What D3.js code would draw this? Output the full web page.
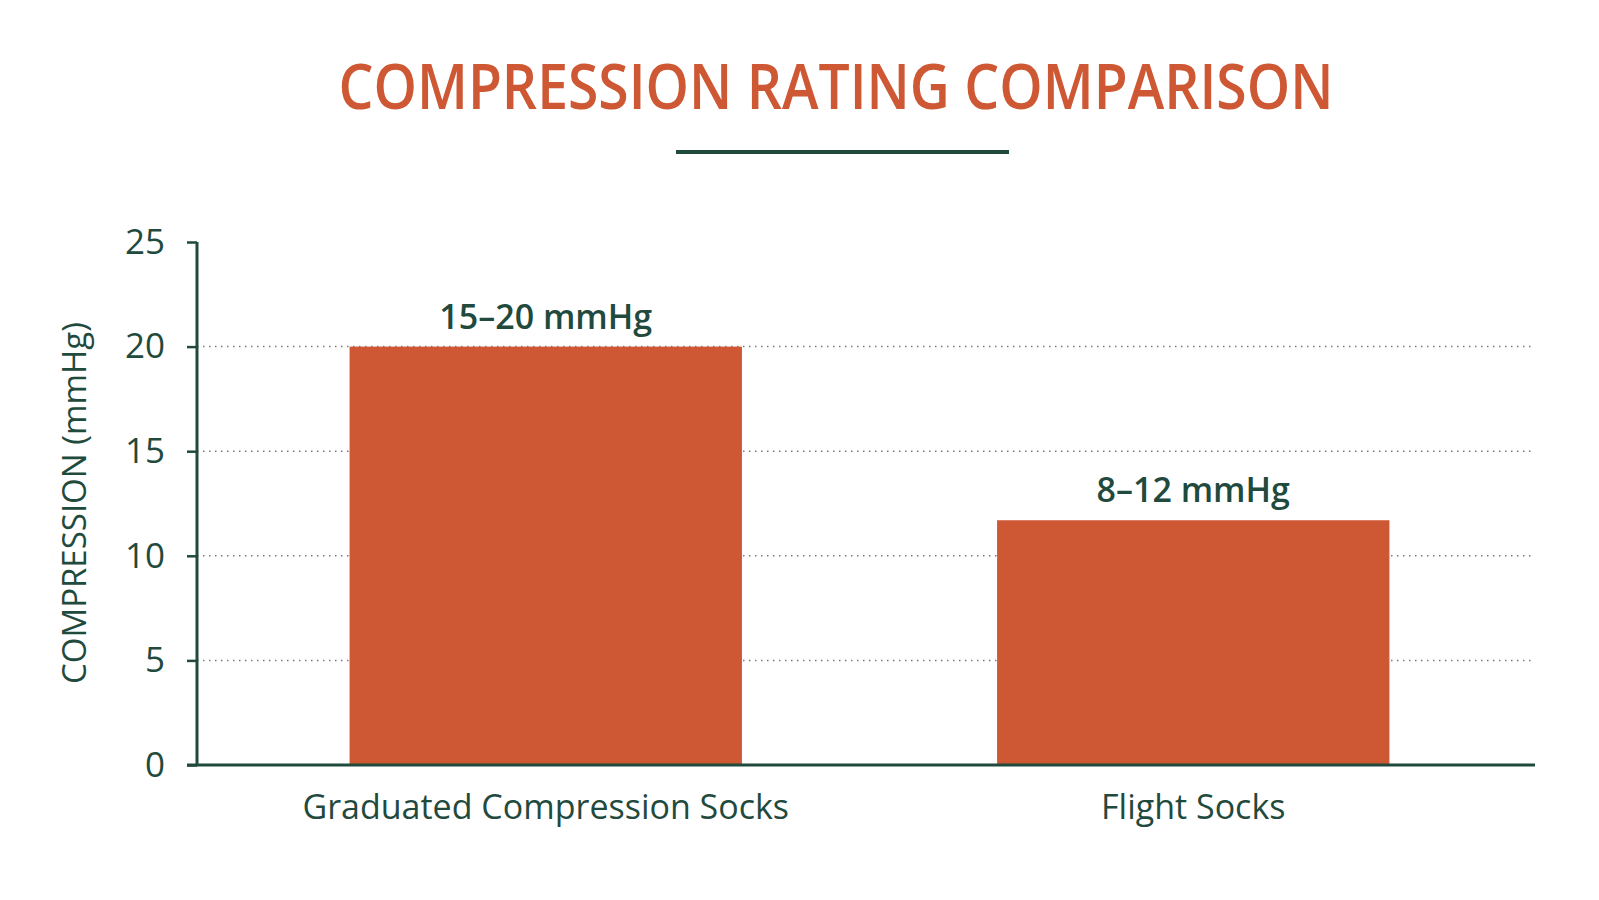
<!DOCTYPE html>
<html>
<head>
<meta charset="utf-8">
<script src="https://cdn.jsdelivr.net/npm/d3@7"></script>
<style>
  body { margin: 0; background: #fff; }
  text { font-family: "Open Sans", Roboto, sans-serif; }
</style>
</head>
<body>
<script>
// data
var categories = ["Graduated Compression Socks", "Flight Socks"];
var values = [20, 11.7];
var valueLabels = ["15–20 mmHg", "8–12 mmHg"];
var yTicks = [0, 5, 10, 15, 20, 25];
var gridTicks = [5, 10, 15, 20];

var width = 1599;
var height = 900;

var orange = "#cf5834";
var green = "#1f4a3d";

var svg = d3.select("body").append("svg")
            .attr("width", width)
            .attr("height", height);

// title + underline (squeezed a bit, the original face is narrower)
svg.append("text")
   .attr("x", 836)
   .attr("y", 109)
   .attr("text-anchor", "middle")
   .attr("fill", orange)
   .attr("font-size", 63)
   .attr("font-weight", 600)
   .attr("textLength", 995)
   .attr("lengthAdjust", "spacingAndGlyphs")
   .text("COMPRESSION RATING COMPARISON");

svg.append("line")
   .attr("x1", 676).attr("x2", 1009)
   .attr("y1", 152).attr("y2", 152)
   .attr("stroke", green)
   .attr("stroke-width", 4);

var y = d3.scaleLinear()
          .domain([0, 25])
          .range([765, 242]);

var x = d3.scaleBand()
          .domain(categories)
          .range([222, 1517])
          .paddingInner(0.394)
          .paddingOuter(0.197);

var axisLeft = 197;
var axisRight = 1535;

// dotted grid
svg.selectAll("line.grid")
   .data(gridTicks)
   .enter()
   .append("line")
   .attr("class", "grid")
   .attr("x1", axisLeft)
   .attr("x2", axisRight)
   .attr("y1", function(d) { return y(d); })
   .attr("y2", function(d) { return y(d); })
   .attr("stroke", "#7a7a7a")
   .attr("stroke-width", 1.5)
   .attr("stroke-dasharray", "1.5,4.5");

// bars
svg.selectAll("rect.bar")
   .data(values)
   .enter()
   .append("rect")
   .attr("class", "bar")
   .attr("x", function(d, i) { return x(categories[i]); })
   .attr("y", function(d) { return y(d); })
   .attr("width", x.bandwidth())
   .attr("height", function(d) { return y(0) - y(d); })
   .attr("fill", orange);

// value labels over bars
svg.selectAll("text.val")
   .data(values)
   .enter()
   .append("text")
   .attr("class", "val")
   .attr("x", function(d, i) { return x(categories[i]) + x.bandwidth() / 2; })
   .attr("y", function(d) { return y(d) - 18; })
   .attr("text-anchor", "middle")
   .attr("fill", green)
   .attr("font-size", 34)
   .attr("font-weight", 600)
   .text(function(d, i) { return valueLabels[i]; });

// y axis
var yAxis = d3.axisLeft(y)
              .tickValues(yTicks)
              .tickSize(10)
              .tickPadding(22);

var gy = svg.append("g")
            .attr("transform", "translate(" + axisLeft + ",0)")
            .call(yAxis);

gy.select(".domain").remove();
gy.selectAll(".tick line").attr("stroke", green).attr("stroke-width", 2.5);
gy.selectAll(".tick text")
  .attr("fill", green)
  .attr("font-size", 35)
  .attr("font-weight", 500)
  .attr("font-family", null);

svg.append("line")
   .attr("x1", axisLeft).attr("x2", axisLeft)
   .attr("y1", y(25)).attr("y2", y(0))
   .attr("stroke", green)
   .attr("stroke-width", 3);

// x axis baseline
svg.append("line")
   .attr("x1", axisLeft - 10).attr("x2", axisRight)
   .attr("y1", y(0)).attr("y2", y(0))
   .attr("stroke", green)
   .attr("stroke-width", 3);

svg.selectAll("text.cat")
   .data(categories)
   .enter()
   .append("text")
   .attr("class", "cat")
   .attr("x", function(d) { return x(d) + x.bandwidth() / 2; })
   .attr("y", 819)
   .attr("text-anchor", "middle")
   .attr("fill", green)
   .attr("font-size", 34)
   .attr("font-weight", 500)
   .text(function(d) { return d; });

// y axis title
svg.append("text")
   .attr("transform", "translate(86,503) rotate(-90)")
   .attr("text-anchor", "middle")
   .attr("fill", green)
   .attr("font-size", 33)
   .attr("font-weight", 500)
   .text("COMPRESSION (mmHg)");
</script>
</body>
</html>
